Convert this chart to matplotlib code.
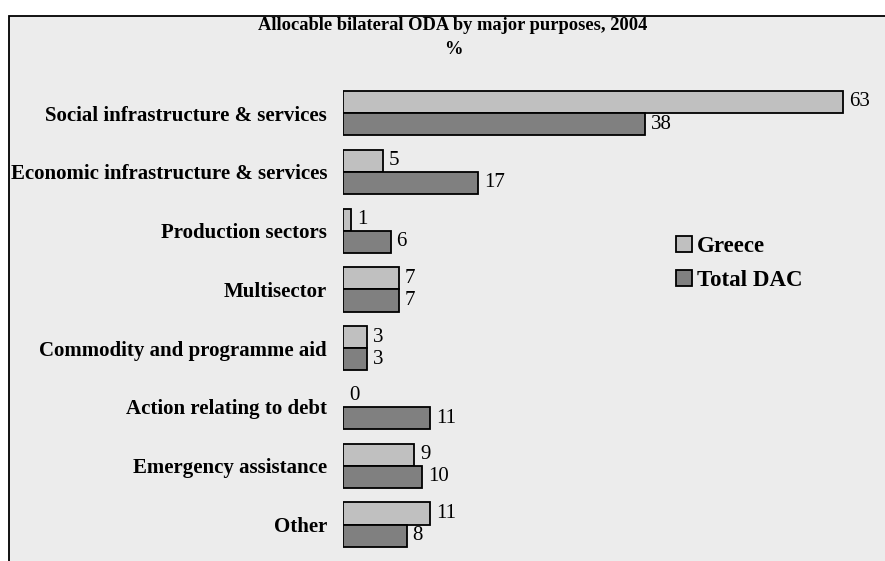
import matplotlib
matplotlib.use("Agg")
import matplotlib.pyplot as plt
from matplotlib.patches import Rectangle, Patch
import numpy as np

# Allocable bilateral ODA shares, 2004 (%)
purposes = [
    "Social infrastructure & services",
    "Economic infrastructure & services",
    "Production sectors",
    "Multisector",
    "Commodity and programme aid",
    "Action relating to debt",
    "Emergency assistance",
    "Other",
]
greece = [63, 5, 1, 7, 3, 0, 9, 11]
total_dac = [38, 17, 6, 7, 3, 11, 10, 8]

light = "#c0c0c0"
dark = "#808080"
panel = "#ececec"

plt.rcParams["font.family"] = ["Liberation Serif", "DejaVu Serif"]

W, H = 885, 561
fig = plt.figure(figsize=(W / 100, H / 100), dpi=100)
fig.patch.set_facecolor("white")

# grey chart panel with a black border
fig.patches.append(Rectangle((9 / W, -0.2), 1.2, 1.2 - 16 / H,
                             transform=fig.transFigure, facecolor=panel,
                             edgecolor="black", linewidth=1.3, zorder=-5))

ax = fig.add_axes([343 / W, 0, 524 / W, 1 - 86 / H])
ax.set_facecolor("none")
ax.set_zorder(2)

y = np.arange(len(purposes))
h = 0.376
# zero-length bars get no outline
ax.barh(y - h / 2, greece, height=h, color=light, edgecolor="black",
        linewidth=[1.3 if v else 0 for v in greece], label="Greece")
ax.barh(y + h / 2, total_dac, height=h, color=dark, edgecolor="black",
        linewidth=[1.3 if v else 0 for v in total_dac], label="Total DAC")

for yi, g, d in zip(y, greece, total_dac):
    ax.text(g + 0.75, yi - h / 2, str(g), va="center", ha="left", fontsize=15)
    ax.text(d + 0.75, yi + h / 2, str(d), va="center", ha="left", fontsize=15)

ax.set_xlim(0, 66)
ax.set_ylim(7.62, -0.46)
ax.set_yticks(y)
ax.set_yticklabels(purposes, fontsize=15, fontweight="bold")
ax.tick_params(axis="y", length=0, pad=11.5)
ax.set_xticks([])
for side in ["top", "right", "bottom", "left"]:
    ax.spines[side].set_visible(False)

fig.text(453 / W, 1 - 25 / H, "Allocable bilateral ODA by major purposes, 2004",
         ha="center", va="center", fontsize=13.3, fontweight="bold")
fig.text(453 / W, 1 - 50 / H, "%", ha="center", va="center",
         fontsize=13.3, fontweight="bold")

handles = [Patch(facecolor=light, edgecolor="black", linewidth=1.3),
           Patch(facecolor=dark, edgecolor="black", linewidth=1.3)]
fig.legend(handles, ["Greece", "Total DAC"], loc="upper left",
           bbox_to_anchor=(676 / W, 1 - 236 / H), frameon=False,
           prop={"size": 16.5, "weight": "bold"}, handlelength=0.7,
           handleheight=0.7, handletextpad=0.2, labelspacing=0.55,
           borderaxespad=0, borderpad=0)

fig.savefig("out.png", dpi=100)
